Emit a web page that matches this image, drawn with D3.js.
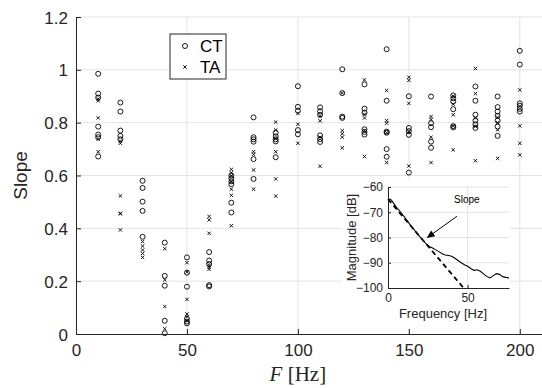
<!DOCTYPE html>
<html>
<head>
<meta charset="utf-8">
<script src="https://cdn.jsdelivr.net/npm/d3@7"></script>
<style>
    body { margin: 0; background: #fff; }
    svg { display: block; font-family: "Liberation Sans", Arial, sans-serif; }
</style>
</head>
<body>
<svg id="chart" width="542" height="388"></svg>
<script>
// test frequencies (Hz)
const freqs = [10, 20, 30, 40, 50, 60, 70, 80, 90, 100, 110, 120, 130, 140, 150, 160, 170, 180, 190, 200];

// slope values, one list per frequency
const ctValues = [
    [0.985, 0.91, 0.895, 0.785, 0.755, 0.745, 0.672],
    [0.876, 0.842, 0.77, 0.75, 0.737],
    [0.58, 0.553, 0.501, 0.466, 0.368],
    [0.346, 0.22, 0.183, 0.05, 0.003],
    [0.29, 0.232, 0.179, 0.058, 0.047, 0.04],
    [0.31, 0.278, 0.265, 0.185, 0.18],
    [0.6, 0.59, 0.578, 0.567, 0.497, 0.46],
    [0.82, 0.745, 0.737, 0.728, 0.662, 0.587],
    [0.762, 0.748, 0.737, 0.729, 0.669],
    [0.938, 0.86, 0.845, 0.772, 0.756],
    [0.858, 0.843, 0.83, 0.752, 0.738, 0.727],
    [1.002, 0.912, 0.823, 0.818],
    [0.945, 0.853, 0.838, 0.775, 0.765, 0.755],
    [1.078, 0.883, 0.766, 0.762, 0.7, 0.671],
    [0.9, 0.78, 0.768, 0.754, 0.611],
    [0.899, 0.798, 0.783, 0.728, 0.705],
    [0.903, 0.892, 0.88, 0.851, 0.787, 0.782],
    [0.937, 0.883, 0.83, 0.808, 0.794, 0.78],
    [0.899, 0.859, 0.842, 0.826, 0.808, 0.785, 0.75],
    [1.072, 1.02, 0.873, 0.864, 0.852, 0.842]
];

const taValues = [
    [0.883, 0.89, 0.818, 0.737, 0.69],
    [0.73, 0.722, 0.523, 0.457, 0.455, 0.394],
    [0.35, 0.333, 0.318, 0.305, 0.29],
    [0.323, 0.205, 0.104, 0.02],
    [0.27, 0.235, 0.131, 0.076, 0.066, 0.05],
    [0.445, 0.432, 0.381, 0.26, 0.253, 0.245],
    [0.623, 0.61, 0.598, 0.575, 0.548, 0.525, 0.41],
    [0.69, 0.68, 0.621, 0.548],
    [0.802, 0.772, 0.74, 0.69, 0.587, 0.522],
    [0.835, 0.794, 0.722],
    [0.825, 0.807, 0.745, 0.635],
    [0.912, 0.77, 0.758, 0.745, 0.705],
    [0.962, 0.832, 0.818, 0.77, 0.672],
    [0.922, 0.808, 0.798, 0.762, 0.649],
    [0.972, 0.96, 0.873, 0.764, 0.636],
    [0.823, 0.812, 0.745, 0.649],
    [0.9, 0.87, 0.83, 0.787, 0.697],
    [1.005, 0.91, 0.818, 0.786, 0.656],
    [0.82, 0.8, 0.773, 0.665],
    [0.924, 0.788, 0.722, 0.678]
];

const xTicks = [0, 50, 100, 150, 200];
const yTicks = [0, 0.2, 0.4, 0.6, 0.8, 1, 1.2];

// inset: example spectrum and fitted slope
const insetFreq = [0, 1, 2, 3, 4, 6, 8, 10, 12, 14, 16, 18, 20, 22, 24, 26, 28, 30, 32, 34, 36, 38, 40,
    42, 44, 46, 48, 50, 52, 54, 56, 58, 60, 62, 64, 66, 68, 70, 72, 74, 76];
const insetMag = [-65, -64.8, -65.1, -66, -66.9, -68.6, -70, -71.6, -73.3, -75, -76.6, -78.2, -79.7, -81.1, -82.5,
    -83.6, -84.2, -84.9, -85.6, -86.4, -86.9, -87.1, -87.4, -88.2, -89.1, -90, -90.8, -91.4, -92.3, -93, -92.8,
    -93.4, -94.4, -95.4, -96, -95.2, -94.3, -94.6, -95.5, -95.8, -96];
const slopeFreq = [0, 47.5];
const slopeMag = [-64.8, -100];
const insetXTicks = [0, 50];
const insetYTicks = [-100, -90, -80, -70, -60];
const arrowFrom = [43.3, -71.6];
const arrowTo = [24.3, -80.2];

const axisColor = "#262626";
const gridColor = "#e3e3e3";

function points(values) {
    const out = [];
    values.forEach((list, i) => list.forEach(v => out.push({ f: freqs[i], v: v })));
    return out;
}

function main() {
    const svg = d3.select("#chart");

    const x = d3.scaleLinear().domain([0, 210]).range([76, 542]);
    const y = d3.scaleLinear().domain([0, 1.2]).range([334, 17]);

    // grid
    svg.append("g")
        .selectAll("line")
        .data(yTicks.slice(1)).enter()
        .append("line")
        .attr("x1", x(0)).attr("x2", x(210))
        .attr("y1", d => y(d)).attr("y2", d => y(d))
        .attr("stroke", gridColor);

    svg.append("g")
        .selectAll("line")
        .data(xTicks.slice(1)).enter()
        .append("line")
        .attr("x1", d => x(d)).attr("x2", d => x(d))
        .attr("y1", y(0)).attr("y2", y(1.2))
        .attr("stroke", gridColor);

    // data
    svg.append("g")
        .selectAll("circle")
        .data(points(ctValues)).enter()
        .append("circle")
        .attr("cx", d => x(d.f))
        .attr("cy", d => y(d.v))
        .attr("r", 2.5)
        .attr("fill", "none")
        .attr("stroke", "#000")
        .attr("stroke-width", 0.9);

    svg.append("g")
        .selectAll("path")
        .data(points(taValues)).enter()
        .append("path")
        .attr("d", "M-1.7,-1.7L1.7,1.7M-1.7,1.7L1.7,-1.7")
        .attr("transform", d => "translate(" + x(d.f) + "," + y(d.v) + ")")
        .attr("stroke", "#000")
        .attr("stroke-width", 0.9);

    // axes
    const axisX = d3.axisBottom(x).tickValues(xTicks).tickSizeInner(-5).tickSizeOuter(0).tickPadding(8);
    const axisY = d3.axisLeft(y).tickValues(yTicks).tickSizeInner(-5).tickSizeOuter(0).tickPadding(8)
        .tickFormat(d => d === 0 || d === 1 ? d : d3.format(".1f")(d));

    const gx = svg.append("g").attr("transform", "translate(0," + y(0) + ")").call(axisX);
    const gy = svg.append("g").attr("transform", "translate(" + x(0) + ",0)").call(axisY);

    [gx, gy].forEach(g => {
        g.select(".domain").attr("stroke", axisColor);
        g.selectAll(".tick line").attr("stroke", axisColor);
        g.selectAll(".tick text")
            .attr("fill", axisColor)
            .style("font-size", "17px")
            .style("font-family", "'Liberation Sans', Arial, sans-serif");
    });
    gy.selectAll(".tick text").attr("dy", "0.36em");
    gx.selectAll(".tick text").attr("dy", "0.8em");

    svg.append("text")
        .attr("transform", "translate(27," + (y(0.6)) + ") rotate(-90)")
        .attr("text-anchor", "middle")
        .style("font-size", "19px")
        .attr("fill", axisColor)
        .text("Slope");

    const xl = svg.append("text")
        .attr("x", x(100))
        .attr("y", 381)
        .attr("text-anchor", "middle")
        .style("font-family", "'Liberation Serif', 'DejaVu Serif', serif")
        .style("font-size", "21px")
        .attr("fill", axisColor);
    xl.append("tspan").style("font-style", "italic").text("F");
    xl.append("tspan").text(" [Hz]");

    // legend
    const leg = svg.append("g").attr("transform", "translate(170,34)");
    leg.append("rect")
        .attr("width", 56).attr("height", 45)
        .attr("fill", "#fff")
        .attr("stroke", axisColor);
    leg.append("circle")
        .attr("cx", 15).attr("cy", 12).attr("r", 2.5)
        .attr("fill", "none").attr("stroke", "#000").attr("stroke-width", 0.9);
    leg.append("path")
        .attr("d", "M-1.7,-1.7L1.7,1.7M-1.7,1.7L1.7,-1.7")
        .attr("transform", "translate(15,33)")
        .attr("stroke", "#000").attr("stroke-width", 0.9);
    leg.append("text").attr("x", 30).attr("y", 18).style("font-size", "17px").text("CT");
    leg.append("text").attr("x", 30).attr("y", 39).style("font-size", "17px").text("TA");
}

function inset() {
    const svg = d3.select("#chart");
    const ix = d3.scaleLinear().domain([0, 76]).range([388, 509]);
    const iy = d3.scaleLinear().domain([-100, -60]).range([288, 187]);

    const g = svg.append("g");

    g.append("rect")
        .attr("x", 342).attr("y", 179)
        .attr("width", 168).attr("height", 150)
        .attr("fill", "#fff");

    g.append("g")
        .selectAll("line")
        .data(insetYTicks.slice(1)).enter()
        .append("line")
        .attr("x1", ix(0)).attr("x2", ix(76))
        .attr("y1", d => iy(d)).attr("y2", d => iy(d))
        .attr("stroke", gridColor);

    g.append("g")
        .selectAll("line")
        .data(insetXTicks.slice(1)).enter()
        .append("line")
        .attr("x1", d => ix(d)).attr("x2", d => ix(d))
        .attr("y1", iy(-100)).attr("y2", iy(-60))
        .attr("stroke", gridColor);

    const line = d3.line().x(d => ix(d[0])).y(d => iy(d[1]));

    g.append("path")
        .attr("d", line(slopeFreq.map((f, i) => [f, slopeMag[i]])))
        .attr("fill", "none")
        .attr("stroke", "#000")
        .attr("stroke-width", 1.8)
        .attr("stroke-dasharray", "5,3.5");

    g.append("path")
        .attr("d", line(insetFreq.map((f, i) => [f, insetMag[i]])))
        .attr("fill", "none")
        .attr("stroke", "#000")
        .attr("stroke-width", 1.1);

    const axisX = d3.axisBottom(ix).tickValues(insetXTicks).tickSizeInner(-3).tickSizeOuter(0).tickPadding(5);
    const axisY = d3.axisLeft(iy).tickValues(insetYTicks).tickSizeInner(-3).tickSizeOuter(0).tickPadding(5);

    const gx = g.append("g").attr("transform", "translate(0," + iy(-100) + ")").call(axisX);
    const gy = g.append("g").attr("transform", "translate(" + ix(0) + ",0)").call(axisY);

    [gx, gy].forEach(a => {
        a.select(".domain").attr("stroke", axisColor);
        a.selectAll(".tick line").attr("stroke", axisColor);
        a.selectAll(".tick text")
            .attr("fill", axisColor)
            .style("font-size", "12px")
            .style("font-family", "'Liberation Sans', Arial, sans-serif");
    });

    g.append("text")
        .attr("x", 443).attr("y", 318)
        .attr("text-anchor", "middle")
        .attr("fill", axisColor)
        .style("font-size", "13px")
        .text("Frequency [Hz]");

    g.append("text")
        .attr("transform", "translate(356," + iy(-80) + ") rotate(-90)")
        .attr("text-anchor", "middle")
        .attr("fill", axisColor)
        .style("font-size", "13px")
        .text("Magnitude [dB]");

    // arrow annotation
    const x1 = ix(arrowFrom[0]), y1 = iy(arrowFrom[1]);
    const x2 = ix(arrowTo[0]), y2 = iy(arrowTo[1]);
    const ang = Math.atan2(y2 - y1, x2 - x1);
    const hl = 8, hw = 3.5;
    const bx = x2 - hl * Math.cos(ang), by = y2 - hl * Math.sin(ang);

    g.append("line")
        .attr("x1", x1).attr("y1", y1)
        .attr("x2", bx).attr("y2", by)
        .attr("stroke", "#000").attr("stroke-width", 1);
    g.append("path")
        .attr("d", "M" + x2 + "," + y2 +
            "L" + (bx + hw * Math.sin(ang)) + "," + (by - hw * Math.cos(ang)) +
            "L" + (bx - hw * Math.sin(ang)) + "," + (by + hw * Math.cos(ang)) + "Z")
        .attr("fill", "#000");

    g.append("text")
        .attr("x", ix(49.5)).attr("y", iy(-66.3))
        .attr("text-anchor", "middle")
        .style("font-size", "10px")
        .text("Slope");
}

main();
inset();
</script>
</body>
</html>
